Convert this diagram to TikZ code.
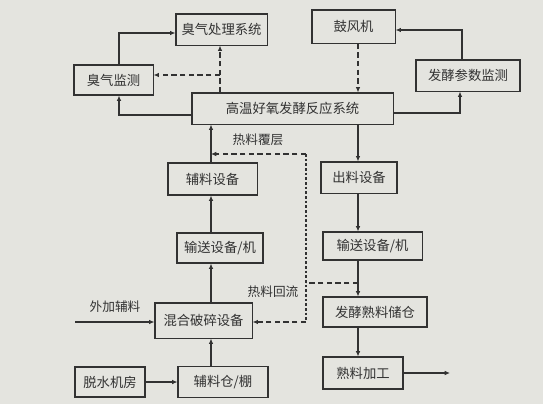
\documentclass[tikz,border=0pt]{standalone}
\usepackage{fontspec}
\newfontfamily\cjk{Noto Sans CJK SC}
\usetikzlibrary{arrows.meta, calc, positioning}
\definecolor{paper}{RGB}{228,228,223}
\definecolor{ink}{RGB}{50,50,50}
\tikzset{
  box/.style={draw=ink, line width=0.8pt, inner sep=0pt, text=ink,
    font=\cjk\fontsize{10}{12}\selectfont},
  arr/.style={draw=ink, line width=0.8pt, -{Latex[length=4pt,width=3.5pt]}},
  darr/.style={arr, dash pattern=on 4pt off 2.5pt},
  dline/.style={draw=ink, line width=0.8pt, dash pattern=on 4pt off 2.5pt},
  dotline/.style={draw=ink, line width=0.8pt, dash pattern=on 2pt off 1.5pt},
  lbl/.style={inner sep=0pt, text=ink, font=\cjk\fontsize{9.5}{11}\selectfont},
}

\begin{document}
\begin{tikzpicture}[x=0.75pt, y=-0.75pt]
  \fill[paper] (0,0) rectangle (543,404);
  \useasboundingbox (0,0) rectangle (543,404);

  % Boxes
  \node[box, minimum width=68.3pt, minimum height=23.3pt] (ochu) at (221.5,29.5) {臭气处理系统};
  \node[box, minimum width=62.3pt, minimum height=24.8pt] (blower) at (353.5,26.5) {鼓风机};
  \node[box, minimum width=59.3pt, minimum height=22.5pt] (omon) at (113.5,80) {臭气监测};
  \node[box, minimum width=78pt, minimum height=23.3pt] (pmon) at (468,75.5) {发酵参数监测};
  \node[box, minimum width=150.8pt, minimum height=23.3pt] (reactor) at (292.5,108.5) {高温好氧发酵反应系统};
  \node[box, minimum width=66.8pt, minimum height=24pt] (auxeq) at (212.5,179) {辅料设备};
  \node[box, minimum width=57pt, minimum height=23.3pt] (outeq) at (359,177.5) {出料设备};
  \node[box, minimum width=64.5pt, minimum height=22.5pt] (convL) at (220,248) {输送设备/机};
  \node[box, minimum width=74.3pt, minimum height=21pt] (convR) at (372.5,246) {输送设备/机};
  \node[box, minimum width=72.8pt, minimum height=26.3pt] (mixer) at (203.5,320.5) {混合破碎设备};
  \node[box, minimum width=52.5pt, minimum height=22.5pt] (dewater) at (110,382) {脱水机房};
  \node[box, minimum width=67.5pt, minimum height=23.3pt] (silo) at (223,382) {辅料仓/棚};
  \node[box, minimum width=78pt, minimum height=22.5pt] (store) at (375,312) {发酵熟料储仓};
  \node[box, minimum width=60pt, minimum height=24pt] (proc) at (363,373) {熟料加工};

  % Helper points
  \coordinate (colL) at (211,0);
  \coordinate (colR) at (358,0);
  \coordinate (oleft) at (119,33);
  \coordinate (rleft) at (119,115);
  \coordinate (ojoin) at (220,75);
  \coordinate (rright) at (460,113);
  \coordinate (pup) at (462,30);
  \coordinate (hot) at (306,154);
  \coordinate (ret) at (306,283);
  \coordinate (back) at (306,322);
  \coordinate (extin) at (75,322);
  \coordinate (prodout) at (450,373);

  % Odour branch
  \draw[arr] (omon.north -| oleft) -- (oleft) -- (oleft -| ochu.west);
  \draw[arr] (rleft -| reactor.west) -- (rleft) -- (omon.south -| rleft);
  \draw[darr] (reactor.north -| ojoin) -- (ochu.south -| ojoin);
  \draw[darr] (ojoin) -- (ojoin -| omon.east);

  % Blower branch
  \draw[darr] (blower.south -| colR) -- (reactor.north -| colR);
  \draw[arr] (rright -| reactor.east) -- (rright) -- (pmon.south -| rright);
  \draw[arr] (pmon.north -| pup) -- (pup) -- (pup -| blower.east);

  % Feed column
  \draw[arr] (dewater) -- (silo);
  \draw[arr] (silo.north -| colL) -- (mixer.south -| colL);
  \draw[arr] (mixer.north -| colL) -- (convL.south -| colL);
  \draw[arr] (convL.north -| colL) -- (auxeq.south -| colL);
  \draw[arr] (auxeq.north -| colL) -- (reactor.south -| colL);
  \draw[arr] (extin) -- (extin -| mixer.west);
  \node[lbl] (extlbl) at (115,307) {外加辅料};

  % Output column
  \draw[arr] (reactor.south -| colR) -- (outeq.north -| colR);
  \draw[arr] (outeq.south -| colR) -- (convR.north -| colR);
  \draw[arr] (convR.south -| colR) -- (store.north -| colR);
  \draw[arr] (store.south -| colR) -- (proc.north -| colR);
  \draw[arr] (proc) -- (prodout);

  % Hot material return
  \draw[darr] (hot) -- (hot -| colL);
  \draw[dotline] (hot) -- (back);
  \draw[dline] (ret -| colR) -- (ret);
  \draw[darr] (back) -- (back -| mixer.east);
  \node[lbl] (covlbl) at (258,140) {热料覆层};
  \node[lbl] (retlbl) at (273,292) {热料回流};
\end{tikzpicture}
\end{document}
